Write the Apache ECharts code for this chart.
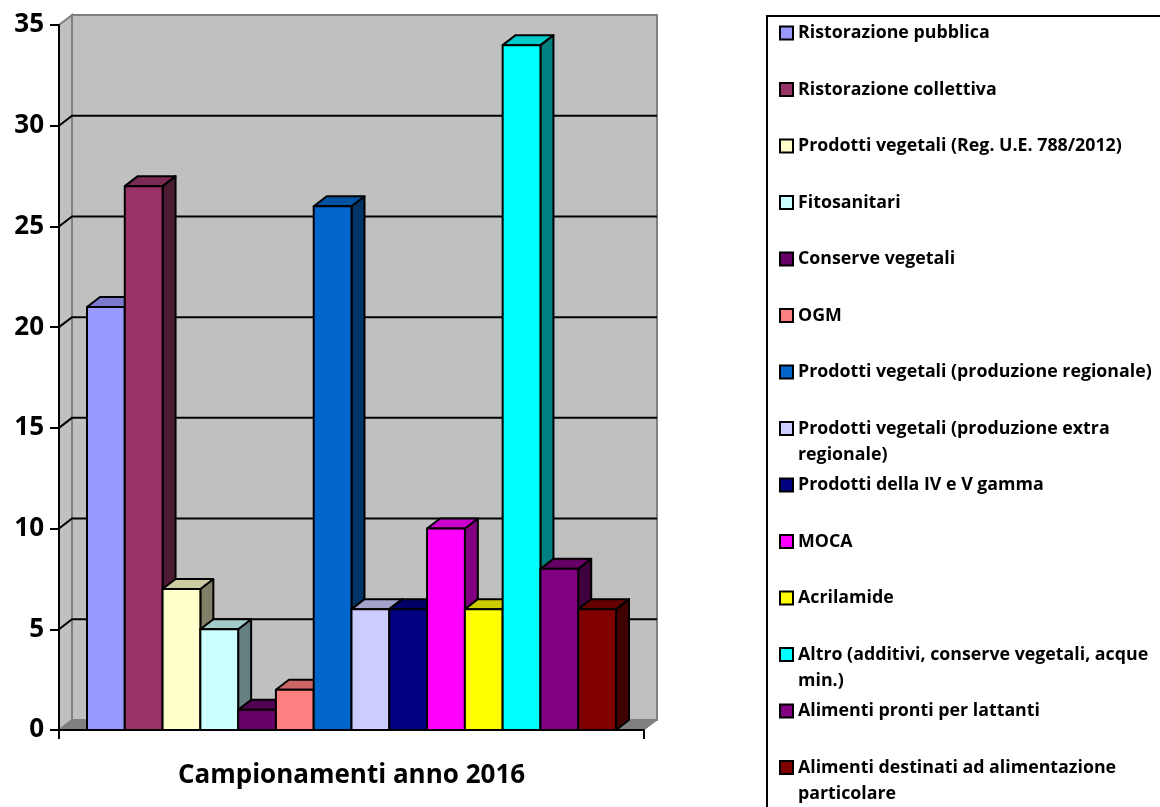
<!DOCTYPE html>
<html><head><meta charset="utf-8">
<script src="https://cdn.jsdelivr.net/npm/echarts@6/dist/echarts.min.js"></script>
<style>html,body{margin:0;padding:0;background:#fff}#c{width:1160px;height:807px}</style>
</head><body><div id="c"></div>
<script>
const categories = ['Campionamenti anno 2016'];
const seriesNames = [
  'Ristorazione pubblica',
  'Ristorazione collettiva',
  'Prodotti vegetali (Reg. U.E. 788/2012)',
  'Fitosanitari',
  'Conserve vegetali',
  'OGM',
  'Prodotti vegetali (produzione regionale)',
  'Prodotti vegetali (produzione extra regionale)',
  'Prodotti della IV e V gamma',
  'MOCA',
  'Acrilamide',
  'Altro (additivi, conserve vegetali, acque min.)',
  'Alimenti pronti per lattanti',
  'Alimenti destinati ad alimentazione particolare'
];
const legendLabels = [
  'Ristorazione pubblica',
  'Ristorazione collettiva',
  'Prodotti vegetali (Reg. U.E. 788/2012)',
  'Fitosanitari',
  'Conserve vegetali',
  'OGM',
  'Prodotti vegetali (produzione regionale)',
  'Prodotti vegetali (produzione extra\nregionale)',
  'Prodotti della IV e V gamma',
  'MOCA',
  'Acrilamide',
  'Altro (additivi, conserve vegetali, acque\nmin.)',
  'Alimenti pronti per lattanti',
  'Alimenti destinati ad alimentazione\nparticolare'
];
const seriesValues = [21, 27, 7, 5, 1, 2, 26, 6, 6, 10, 6, 34, 8, 6];
const seriesColors = ['#9999FF','#993366','#FFFFCC','#CCFFFF','#660066','#FF8080','#0066CC',
  '#CCCCFF','#000080','#FF00FF','#FFFF00','#00FFFF','#800080','#800000'];
const yTicks = [0, 5, 10, 15, 20, 25, 30, 35];

const DX = 13, DY = -10;
const GAP_RATIO = 0.0957;
const FONT = '"Open Sans", sans-serif';

function shade(hex, f) {
  const n = parseInt(hex.slice(1), 16);
  const r = Math.round(((n >> 16) & 255) * f), g = Math.round(((n >> 8) & 255) * f), b = Math.round((n & 255) * f);
  return 'rgb(' + r + ',' + g + ',' + b + ')';
}

function wallRender(params, api) {
  const cs = params.coordSys;
  const L = cs.x, R = cs.x + cs.width, T = cs.y, B = cs.y + cs.height;
  const children = [
    { type: 'polygon', shape: { points: [[L, B], [R, B], [R + DX, B + DY], [L + DX, B + DY]] },
      style: { fill: '#808080', stroke: '#808080', lineWidth: 1 } },
    { type: 'polygon', shape: { points: [[L, B], [L, T], [L + DX, T + DY], [L + DX, B + DY]] },
      style: { fill: '#C0C0C0', stroke: '#808080', lineWidth: 2 } },
    { type: 'rect', shape: { x: L + DX, y: T + DY, width: cs.width, height: cs.height },
      style: { fill: '#C0C0C0', stroke: '#808080', lineWidth: 2 } }
  ];
  yTicks.forEach(function (v) {
    if (v === yTicks[0] || v === yTicks[yTicks.length - 1]) return;
    const y = api.coord([0, v])[1];
    children.push({ type: 'polyline', shape: { points: [[L, y], [L + DX, y + DY], [R + DX, y + DY]] },
      style: { fill: null, stroke: '#000', lineWidth: 2 } });
  });
  return { type: 'group', children: children };
}

function barRender(params, api) {
  const idx = api.value(2);
  const val = api.value(1);
  const band = api.size([1, 0])[0];
  const groupW = band * (1 - GAP_RATIO);
  const barW = groupW / seriesValues.length;
  const base = api.coord([0, 0]);
  const top = api.coord([0, val])[1];
  const x0 = base[0] - groupW / 2 + idx * barW, x1 = x0 + barW, yb = base[1];
  const col = seriesColors[idx];
  const st = { stroke: '#000', lineWidth: 2, lineJoin: 'round' };
  return { type: 'group', children: [
    { type: 'polygon', shape: { points: [[x1, top], [x1 + DX, top + DY], [x1 + DX, yb + DY], [x1, yb]] },
      style: Object.assign({ fill: shade(col, 0.5) }, st) },
    { type: 'polygon', shape: { points: [[x0, top], [x1, top], [x1 + DX, top + DY], [x0 + DX, top + DY]] },
      style: Object.assign({ fill: shade(col, 0.8) }, st) },
    { type: 'rect', shape: { x: x0, y: top, width: barW, height: yb - top },
      style: Object.assign({ fill: col }, st) }
  ]};
}

const series = [{
  type: 'custom', name: '__walls', z: 1, silent: true,
  renderItem: wallRender, data: [[0, 0]]
}];
seriesNames.forEach(function (name, i) {
  series.push({
    type: 'custom', name: name, z: 2, renderItem: barRender,
    itemStyle: { color: seriesColors[i], borderColor: '#000', borderWidth: 2 },
    encode: { x: 0, y: 1 },
    data: [[0, seriesValues[i], i]]
  });
});

const legends = seriesNames.map(function (name, i) {
  const twoLine = legendLabels[i].indexOf('\n') >= 0;
  const yc = 33 + 56.5 * i;
  return {
    data: [name], orient: 'vertical', left: 779, top: yc - (twoLine ? 39 : 13),
    padding: 0, icon: 'rect', itemWidth: 13, itemHeight: 13, itemGap: 0, selectedMode: false,
    itemStyle: { borderColor: '#000', borderWidth: 2 },
    formatter: function () { return (twoLine ? '\u00a0\n' : '') + legendLabels[i]; },
    textStyle: { color: '#000', fontWeight: 'bold', fontSize: 17.8, fontFamily: FONT, lineHeight: 26 }
  };
});

const chart = echarts.init(document.getElementById('c'), null, { renderer: 'canvas' });
chart.setOption({
  backgroundColor: '#fff',
  animation: false,
  graphic: [{ type: 'rect', left: 766, top: 15, z: -1,
    shape: { width: 420, height: 820 }, style: { fill: '#fff', stroke: '#000', lineWidth: 2 } }],
  legend: legends,
  grid: { left: 59, top: 25, width: 585, height: 705, containLabel: false },
  xAxis: {
    type: 'category', data: categories, z: 5,
    axisLine: { show: true, lineStyle: { color: '#000', width: 2 } },
    axisTick: { show: true, length: 9, alignWithLabel: false, lineStyle: { color: '#000', width: 2 } },
    axisLabel: { color: '#000', fontWeight: 'bold', fontSize: 26, fontFamily: FONT, margin: 33 },
    splitLine: { show: false }
  },
  yAxis: {
    type: 'value', min: 0, max: 35, interval: 5, z: 5,
    axisLine: { show: true, lineStyle: { color: '#000', width: 2 } },
    axisTick: { show: true, length: 9, lineStyle: { color: '#000', width: 2 } },
    axisLabel: { color: '#000', fontWeight: 'bold', fontSize: 26, fontFamily: FONT, margin: 15 },
    splitLine: { show: false }
  },
  series: series
});
</script></body></html>
